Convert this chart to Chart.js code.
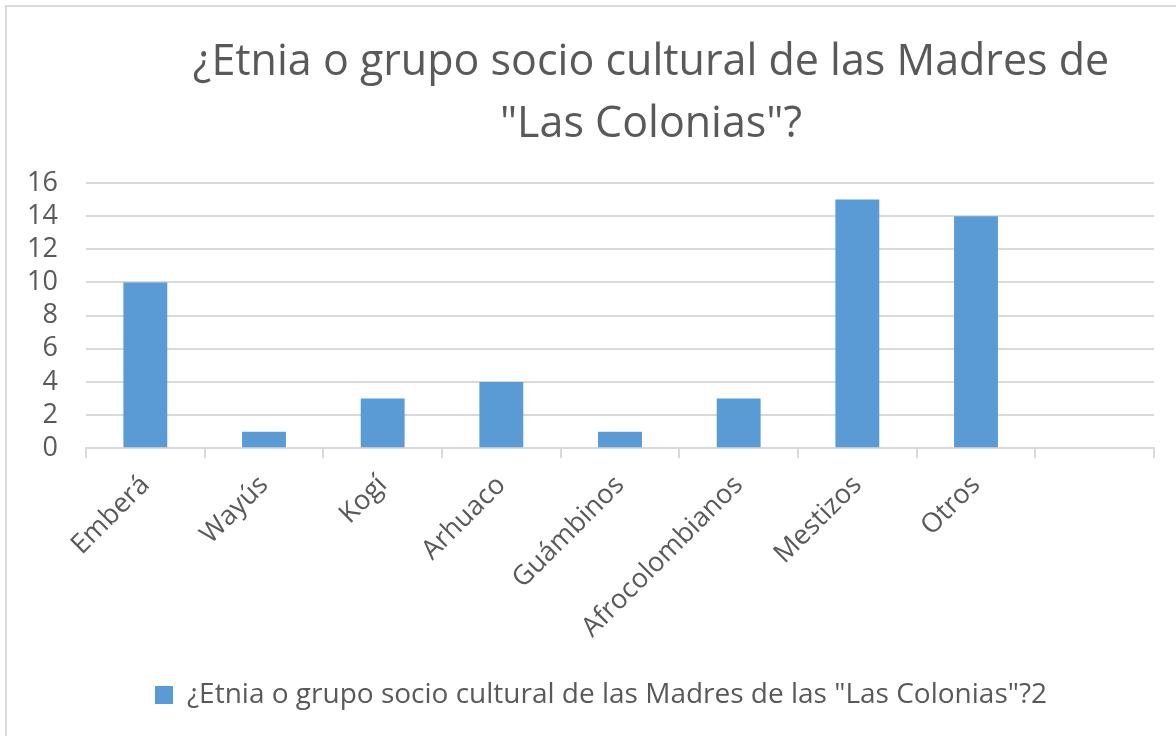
<!DOCTYPE html>
<html>
<head>
<meta charset="utf-8">
<script src="https://cdn.jsdelivr.net/npm/chart.js@4"></script>
<style>
html,body{margin:0;padding:0;background:#fff;}
#wrap{width:1176px;height:736px;position:relative;}
</style>
</head>
<body>
<div id="wrap"><canvas id="c" width="1176" height="736"></canvas></div>
<script>
const categories = ["Emberá", "Wayús", "Kogí", "Arhuaco", "Guámbinos", "Afrocolombianos", "Mestizos", "Otros", ""];
const values = [10, 1, 3, 4, 1, 3, 15, 14, null];
const yTicks = [0, 2, 4, 6, 8, 10, 12, 14, 16];
const seriesName = '¿Etnia o grupo socio cultural de las Madres de las "Las Colonias"?2';
const titleLines = ['¿Etnia o grupo socio cultural de las Madres de', '"Las Colonias"?'];

const FONT = "'Open Sans', sans-serif";
const TXT = '#595959';
const GRID = '#d9d9d9';

const borderPlugin = {
  id: 'outerBorder',
  beforeDraw(chart) {
    const ctx = chart.ctx;
    ctx.save();
    ctx.fillStyle = '#ffffff';
    ctx.fillRect(0, 0, chart.width, chart.height);
    ctx.strokeStyle = GRID;
    ctx.lineWidth = 2;
    ctx.beginPath();
    ctx.moveTo(6, chart.height);
    ctx.lineTo(6, 6);
    ctx.lineTo(chart.width, 6);
    ctx.stroke();
    ctx.restore();
  }
};

const titlePlugin = {
  id: 'offsetTitle',
  afterDraw(chart) {
    const ctx = chart.ctx;
    ctx.save();
    ctx.fillStyle = TXT;
    ctx.font = "43px " + FONT;
    ctx.textAlign = 'center';
    ctx.textBaseline = 'alphabetic';
    const cx = 651;
    titleLines.forEach((t, i) => ctx.fillText(t, cx, 75 + i * 62));
    ctx.restore();
  }
};

const legendShift = {
  id: 'legendShift',
  afterLayout(chart) {
    if (chart.legend) { chart.legend.left += 13; chart.legend.right += 13; }
  }
};

new Chart(document.getElementById('c'), {
  type: 'bar',
  data: {
    labels: categories,
    datasets: [{
      label: seriesName,
      data: values,
      backgroundColor: '#5b9bd5',
      borderWidth: 0,
      categoryPercentage: 1,
      barPercentage: 0.37
    }]
  },
  options: {
    responsive: false,
    animation: false,
    devicePixelRatio: 1,
    layout: { padding: { left: 22, right: 22, top: 183, bottom: 17 } },
    plugins: {
      title: { display: false },
      legend: {
        display: true,
        position: 'bottom',
        labels: {
          color: TXT,
          font: { family: FONT, size: 28 },
          boxWidth: 18,
          boxHeight: 18,
          padding: 10
        }
      },
      tooltip: { enabled: false }
    },
    scales: {
      x: {
        afterFit(scale) { scale.paddingLeft = 0; scale.paddingRight = 0; scale.height += 16; },
        grid: {
          offset: true,
          drawOnChartArea: false,
          drawTicks: true,
          tickLength: 10,
          color: GRID,
          lineWidth: 2
        },
        border: { display: true, color: GRID, width: 2 },
        ticks: {
          color: TXT,
          font: { family: FONT, size: 27 },
          maxRotation: 45,
          minRotation: 45,
          autoSkip: false,
          padding: 11
        }
      },
      y: {
        min: 0,
        max: 16,
        afterBuildTicks(axis) { axis.ticks = yTicks.map(v => ({ value: v })); },
        afterFit(scale) { scale.width = 64; },
        grid: { color: GRID, lineWidth: 2, drawTicks: false },
        border: { display: false },
        ticks: {
          color: TXT,
          font: { family: FONT, size: 27 },
          padding: 28,
          autoSkip: false
        }
      }
    }
  },
  plugins: [borderPlugin, titlePlugin, legendShift]
});
</script>
</body>
</html>
